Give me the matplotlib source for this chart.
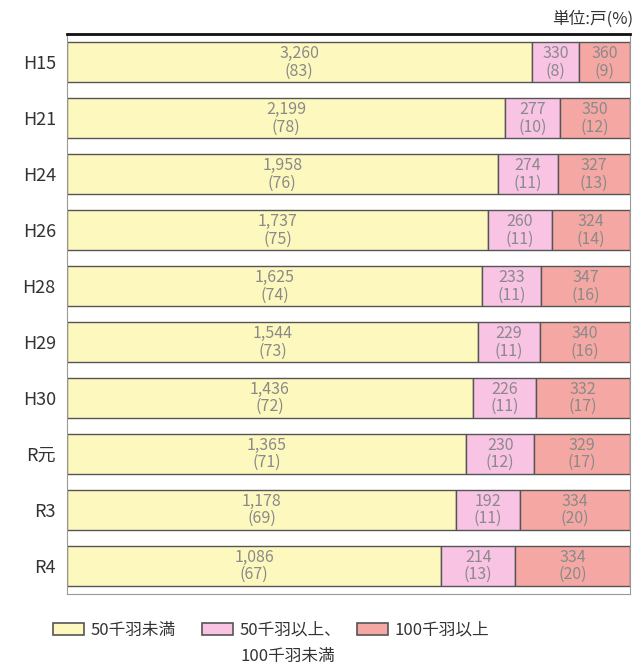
import matplotlib.pyplot as plt
from matplotlib.patches import Rectangle
import numpy as np

plt.rcParams['font.family'] = ['Noto Sans CJK JP', 'DejaVu Sans']

years = ['H15', 'H21', 'H24', 'H26', 'H28', 'H29', 'H30', 'R元', 'R3', 'R4']
small = [3260, 2199, 1958, 1737, 1625, 1544, 1436, 1365, 1178, 1086]
mid = [330, 277, 274, 260, 233, 229, 226, 230, 192, 214]
large = [360, 350, 327, 324, 347, 340, 332, 329, 334, 334]
small_pct = [83, 78, 76, 75, 74, 73, 72, 71, 69, 67]
mid_pct = [8, 10, 11, 11, 11, 11, 11, 12, 11, 13]
large_pct = [9, 12, 13, 14, 16, 16, 17, 17, 20, 20]
labels = ['50千羽未満', '50千羽以上、\n100千羽未満', '100千羽以上']
colors = ['#fdf8bd', '#f9c3e3', '#f5a8a3']

fig = plt.figure(figsize=(6.43, 6.71), dpi=100)
ax = fig.add_axes([0.104, 0.115, 0.876, 0.834])

counts = np.array([small, mid, large], dtype=float)
pcts = [small_pct, mid_pct, large_pct]
share = counts / counts.sum(axis=0) * 100
y = np.arange(len(years))

left = np.zeros(len(years))
for k in range(3):
    ax.barh(y, share[k], left=left, height=0.72, color=colors[k],
            edgecolor='#555555', linewidth=1.0)
    for i in range(len(years)):
        ax.text(left[i] + share[k][i] / 2, y[i],
                f'{int(counts[k][i]):,}\n({pcts[k][i]})',
                ha='center', va='center', fontsize=11.5, color='#8a8a8a',
                linespacing=1.05)
    left += share[k]

ax.set_xlim(0, 100)
ax.set_ylim(len(years) - 0.5, -0.5)
ax.set_yticks(y)
ax.set_yticklabels(years, fontsize=13, color='#333333')
ax.tick_params(axis='y', length=0, pad=8)
ax.set_xticks([])
ax.spines['top'].set_linewidth(2)
ax.spines['top'].set_color('#111111')
for s in ['left', 'right', 'bottom']:
    ax.spines[s].set_color('#999999')
    ax.spines[s].set_linewidth(0.8)

fig.text(0.985, 0.972, '単位:戸(%)', ha='right', va='center', fontsize=12, color='#333333')

# legend
lx = [53, 202, 357]
for k in range(3):
    fig.patches.append(Rectangle((lx[k] / 643, 1 - 635 / 671), 31 / 643, 12 / 671,
                                 transform=fig.transFigure, facecolor=colors[k],
                                 edgecolor='#555555', linewidth=1.2))
    lines = labels[k].split('\n')
    for j, line in enumerate(lines):
        fig.text((lx[k] + 38) / 643, 1 - (630 + 26 * j) / 671, line,
                 ha='left', va='center', fontsize=12, color='#333333')

fig.savefig('out.png', dpi=100)
